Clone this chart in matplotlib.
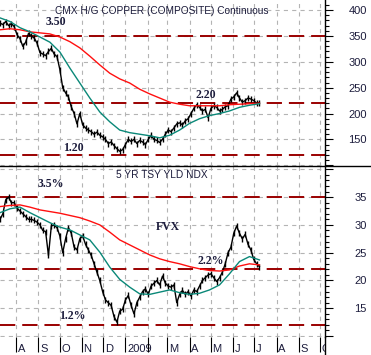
import matplotlib
matplotlib.use('Agg')
import matplotlib.pyplot as plt
import matplotlib.transforms as mtransforms
from matplotlib.lines import Line2D
import pandas as pd

plt.rcParams['lines.scale_dashes'] = False

# Kursy dzienne (próbki co 4 dni) od 2008-07-09
copper_close = [375, 372, 378, 370, 374, 368, 352, 345, 330, 338, 355, 350, 346, 336,
                318, 315, 312, 320, 326, 315, 310, 285, 250, 240, 232, 213, 200, 180,
                200, 178, 172, 168, 165, 160, 164, 158, 155, 150, 142, 145, 138, 132,
                127, 130, 140, 150, 146, 150, 142, 148, 145, 140, 150, 158, 150, 148,
                144, 150, 160, 168, 165, 172, 180, 182, 178, 186, 190, 200, 210, 217,
                212, 205, 208, 192, 210, 215, 212, 205, 208, 213, 215, 228, 232, 240,
                230, 222, 225, 230, 228, 225, 220, 220]
fvx_close = [31, 32, 34.5, 35, 34, 34, 33, 32.5, 32, 31.5, 31, 31, 30.8, 30.5,
             30, 29, 28.8, 24.5, 29.8, 30, 29.5, 28, 25, 27.5, 29.5, 28.5, 26, 25.5,
             27.5, 28, 26.5, 25.5, 24.5, 23, 21.5, 20, 18, 16.5, 16, 15.5, 13.5, 12.5,
             14.5, 14.8, 16.5, 17.3, 15.5, 14, 16, 17, 18, 18.5, 17.5, 19, 19.5, 20,
             19.2, 20.8, 19.5, 19, 18.8, 19.2, 16, 17.5, 18.2, 17.5, 18, 17.2, 18.3, 18,
             19, 20, 20.5, 21, 21.2, 20.5, 19.8, 20.5, 21.5, 23, 25, 26, 28.5, 29.8,
             28.5, 27.5, 28.3, 26.5, 25.5, 23.8, 23, 22.5]

# Średnie kroczące (próbki co 14 dni)
copper_ma50 = [385, 378, 366, 358, 348, 338, 319, 288, 259, 230, 203, 184, 168, 163,
               160, 157, 153, 158, 168, 181, 190, 196, 200, 205, 212, 216, 219]
copper_ma200 = [362, 364, 362, 358, 356, 354, 348, 339, 327, 311, 294, 278, 267, 259,
                247, 238, 230, 222, 218, 215, 215, 215, 215, 217, 218, 219, 220]
fvx_ma50 = [32.2, 32.9, 33.2, 32.2, 31.3, 30.4, 29.6, 29.1, 28.2, 27.3, 25.1, 22.4, 20.2,
            18.8, 17.6, 17.5, 17.9, 18.3, 17.8, 17.5, 17.7, 18.3, 19.2, 21.2, 23.4, 24.3, 23.7]
fvx_ma200 = [33.3, 33.5, 33.6, 33.2, 32.7, 32.4, 32.1, 31.7, 31.3, 30.7, 30.0, 28.7, 27.3,
             26.4, 25.5, 24.6, 23.9, 23.4, 23.0, 22.5, 22.1, 21.8, 21.7, 21.9, 22.6, 23.0, 22.8]

copper_levels = [350, 220, 120]
fvx_levels = [35, 22, 12]
month_labels = ['A', 'S', 'O', 'N', 'D', '2009', '', 'M', 'A', 'M', 'J', 'J', 'A', 'S', 'O']

d_close = pd.date_range('2008-07-09', periods=len(copper_close), freq='4D')
d_ma = pd.date_range('2008-07-09', periods=len(copper_ma50), freq='14D')
months = pd.date_range('2008-08-01', periods=len(month_labels), freq='MS')

W, H = 371, 355
fig = plt.figure(figsize=(W / 100, H / 100), dpi=100)
ax1 = fig.add_axes([0, 1 - 166 / H, 325 / W, 166 / H])
ax2 = fig.add_axes([0, 1 - 337 / H, 325 / W, (337 - 166) / H])

txt_col = '#1c1c3c'
grid_kw = dict(color='#b4b4b4', linestyle=(0, (3, 3)), linewidth=0.8)


def setup(ax, ylim, major, labels, minor_step):
    ax.set_xlim(pd.Timestamp('2008-07-09'), pd.Timestamp('2009-10-08'))
    ax.set_ylim(*ylim)
    for s in ['top', 'left', 'bottom']:
        ax.spines[s].set_visible(False)
    ax.spines['right'].set_linewidth(1.0)
    ax.yaxis.tick_right()
    ax.set_yticks(major)
    ax.set_yticklabels(labels)
    ax.yaxis.set_minor_locator(plt.MultipleLocator(minor_step))
    ax.tick_params(axis='y', which='major', direction='out', length=6, width=0.8,
                   pad=24, labelsize=8, labelcolor=txt_col)
    ax.tick_params(axis='y', which='minor', direction='out', length=3, width=0.8)
    for lab in ax.get_yticklabels():
        lab.set_horizontalalignment('right')
        lab.set_fontfamily('Liberation Sans')
    ax.set_xticks(months)
    ax.grid(True, which='major', **grid_kw)


setup(ax1, (98.5, 419.6), [100, 150, 200, 250, 300, 350, 400],
      ['', '150', '200', '250', '300', '350', '400'], 10)
setup(ax2, (9.83, 40.6), [10, 15, 20, 25, 30, 35, 40],
      ['', '15', '20', '25', '30', '35', ''], 1)

ax1.tick_params(axis='x', length=0, labelbottom=False)
ax2.set_xticklabels(month_labels)
ax2.tick_params(axis='x', direction='out', length=10.8, width=0.8, pad=-5.8,
                labelsize=8, labelcolor=txt_col)
clip = mtransforms.TransformedBbox(mtransforms.Bbox([[0, 0], [325 / W, 1]]), fig.transFigure)
offset = mtransforms.ScaledTranslation(1.5 / 100, 0, fig.dpi_scale_trans)
for lab in ax2.get_xticklabels():
    lab.set_horizontalalignment('left')
    lab.set_fontfamily('Liberation Sans')
    lab.set_transform(lab.get_transform() + offset)
    lab.set_clip_on(True)
    lab.set_clip_box(clip)

for ax, close, ma50, ma200, levels in [(ax1, copper_close, copper_ma50, copper_ma200, copper_levels),
                                       (ax2, fvx_close, fvx_ma50, fvx_ma200, fvx_levels)]:
    for lv in levels:
        ax.axhline(lv, color='#9a0000', linewidth=1.4, dashes=(11, 5), zorder=2)
    # kreska ceny + pionowe znaczniki jak słupki HLC
    ax.plot(d_close, close, color='black', linewidth=1.0, marker='|',
            markersize=4, markeredgewidth=1.0, zorder=3)
    ax.plot(d_ma, ma200, color='#ff1010', linewidth=1.0, zorder=4)
    ax.plot(d_ma, ma50, color='#0a8878', linewidth=1.0, zorder=4)

# Podpisy
sans = dict(family='Liberation Sans', fontsize=7.3, color=txt_col, ha='center', va='center')
serif = dict(family='Liberation Serif', fontsize=8.5, fontweight='bold', color=txt_col,
             ha='center', va='center')


def put(x, y, s, **kw):
    fig.text(x / W, 1 - y / H, s, **kw)


put(162, 11, 'CMX H/G COPPER (COMPOSITE) Continuous', **sans)
put(162, 175, '5 YR TSY YLD NDX', **sans)
put(56, 22, '3.50', **serif)
put(206, 95, '2.20', **serif)
put(73, 148, '1.20', **serif)
put(51, 184, '3.5%', **serif)
put(168, 227, 'FVX', **serif)
put(211, 261, '2.2%', **serif)
put(72, 316, '1.2%', **serif)

# Linie ramki
fig.add_artist(Line2D([0, 1], [1 - 166 / H] * 2, transform=fig.transFigure, color='black', linewidth=1.0))
fig.add_artist(Line2D([325 / W] * 2, [0, 1 - 337 / H], transform=fig.transFigure, color='black', linewidth=1.0))

fig.savefig('out.png', dpi=100)
